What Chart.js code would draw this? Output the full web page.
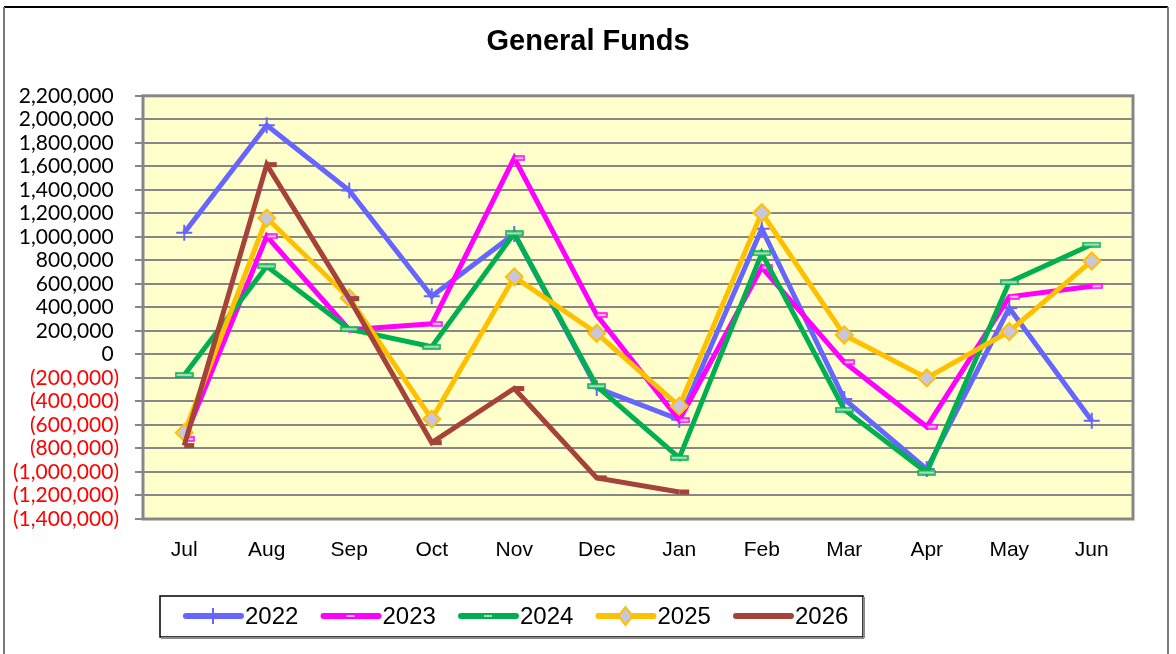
<!DOCTYPE html>
<html>
<head>
<meta charset="utf-8">
<title>General Funds</title>
<script src="https://cdn.jsdelivr.net/npm/chart.js@4/dist/chart.umd.min.js"></script>
<style>
  html, body { margin: 0; padding: 0; background: #fff; }
  #chart { display: block; }
</style>
</head>
<body>
<canvas id="chart" width="1176" height="654"></canvas>
<script>
// Months of the fiscal year
const months = ['Jul', 'Aug', 'Sep', 'Oct', 'Nov', 'Dec', 'Jan', 'Feb', 'Mar', 'Apr', 'May', 'Jun'];
const years = ['2022', '2023', '2024', '2025', '2026'];

// Values
const fy2022 = [1035000, 1950000, 1395000, 495000, 1025000, -285000, -555000, 1070000, -380000, -975000, 395000, -565000];
const fy2023 = [-720000, 1005000, 210000, 260000, 1670000, 335000, -560000, 740000, -65000, -615000, 490000, 580000];
const fy2024 = [-175000, 750000, 215000, 65000, 1030000, -270000, -880000, 860000, -470000, -1005000, 615000, 935000];
const fy2025 = [-665000, 1160000, 480000, -550000, 660000, 180000, -440000, 1205000, 165000, -200000, 195000, 795000];
const fy2026 = [-775000, 1615000, 475000, -750000, -290000, -1050000, -1170000, null, null, null, null, null];

const yMin = -1400000;
const yMax = 2200000;
const yStep = 200000;

const colors = ['#6666ff', '#ff00ff', '#00b050', '#ffc000', '#a5423a'];

// little dash markers (like the Excel ones), drawn to a canvas
function dashMarker(w, h, fill, stroke, shiftRight) {
  const c = document.createElement('canvas');
  c.width = shiftRight ? w * 2 + 2 : w + 2;
  c.height = h + 2;
  const g = c.getContext('2d');
  const x0 = shiftRight ? w + 1 : 1;
  g.fillStyle = fill;
  g.fillRect(x0, 1, w, h);
  if (stroke) {
    g.strokeStyle = stroke;
    g.lineWidth = 1.5;
    g.strokeRect(x0, 1, w, h);
  }
  return c;
}

const marker2023 = dashMarker(10, 4, '#f4b8f4', '#ff00ff', true);
const marker2024 = dashMarker(17, 4, '#a8dcb8', '#00b050', false);
const marker2026 = dashMarker(10, 5, '#a5423a', null, true);

const seriesList = [fy2022, fy2023, fy2024, fy2025, fy2026];

const datasets = seriesList.map((vals, i) => {
  const ds = {
    label: years[i],
    data: vals,
    borderColor: colors[i],
    backgroundColor: colors[i],
    borderWidth: 5,
    tension: 0,
    spanGaps: false,
    order: 5 - i,
    pointRadius: 7,
    pointHoverRadius: 7,
    pointBorderWidth: 2,
    pointBorderColor: colors[i],
    pointBackgroundColor: colors[i]
  };
  if (i === 0) { ds.pointStyle = 'cross'; ds.pointRadius = 8; }
  if (i === 1) ds.pointStyle = marker2023;
  if (i === 2) ds.pointStyle = marker2024;
  if (i === 3) {
    ds.pointStyle = 'rectRot';
    ds.pointRadius = 8.5;
    ds.pointBackgroundColor = '#c9c5da';
    ds.pointBorderColor = '#ffc000';
  }
  if (i === 4) ds.pointStyle = marker2026;
  return ds;
});

function fmt(v) {
  const s = Math.abs(v).toLocaleString('en-US');
  return v < 0 ? '(' + s + ')' : s + ' ';
}

// background, plot frame, outer frame and the boxed legend
const chartDecor = {
  id: 'chartDecor',
  beforeDraw(chart) {
    const { ctx, chartArea: a } = chart;
    ctx.save();
    ctx.fillStyle = '#ffffcc';
    ctx.fillRect(a.left, a.top, a.right - a.left, a.bottom - a.top);
    ctx.restore();
  },
  beforeDatasetsDraw(chart) {
    const { ctx, chartArea: a } = chart;
    ctx.save();
    ctx.strokeStyle = '#878787';
    ctx.lineWidth = 3;
    ctx.strokeRect(a.left, a.top, a.right - a.left, a.bottom - a.top);
    ctx.restore();
  },
  afterDraw(chart) {
    const ctx = chart.ctx;
    ctx.save();
    // outer frame
    ctx.strokeStyle = '#000';
    ctx.lineWidth = 2;
    ctx.beginPath();
    ctx.moveTo(4, 7); ctx.lineTo(1168, 7);
    ctx.stroke();
    ctx.strokeStyle = '#7a7a7a';
    ctx.beginPath();
    ctx.moveTo(4, 7); ctx.lineTo(4, 654);
    ctx.moveTo(1168, 7); ctx.lineTo(1168, 654);
    ctx.stroke();

    // legend box
    ctx.strokeStyle = '#000';
    ctx.lineWidth = 1.5;
    ctx.strokeRect(160, 596, 703, 41);
    ctx.fillStyle = '#8a8a8a';
    ctx.fillRect(161, 637, 703, 2);
    ctx.fillRect(863, 597, 2, 41);

    const ly = 616;
    years.forEach((yr, i) => {
      const x0 = 186 + i * 137.5;
      ctx.strokeStyle = colors[i];
      ctx.lineWidth = 6;
      ctx.lineCap = 'round';
      ctx.beginPath();
      ctx.moveTo(x0, ly); ctx.lineTo(x0 + 55, ly);
      ctx.stroke();
      const cx = x0 + 27;
      if (i === 0) {
        ctx.lineWidth = 2;
        ctx.lineCap = 'butt';
        ctx.beginPath();
        ctx.moveTo(cx, ly - 8); ctx.lineTo(cx, ly + 8);
        ctx.stroke();
      } else if (i === 1 || i === 2) {
        ctx.fillStyle = i === 1 ? '#f4b8f4' : '#a8dcb8';
        ctx.fillRect(cx - 4, ly - 1, 8, 2);
      } else if (i === 3) {
        ctx.fillStyle = '#c9c5da';
        ctx.strokeStyle = '#ffc000';
        ctx.lineWidth = 2;
        ctx.beginPath();
        ctx.moveTo(cx, ly - 9); ctx.lineTo(cx + 7, ly);
        ctx.lineTo(cx, ly + 9); ctx.lineTo(cx - 7, ly);
        ctx.closePath();
        ctx.fill(); ctx.stroke();
      }
      ctx.fillStyle = '#000';
      ctx.font = '24px "Liberation Sans", Arial, sans-serif';
      ctx.textBaseline = 'middle';
      ctx.textAlign = 'left';
      ctx.fillText(yr, x0 + 59, ly + 1);
    });
    ctx.restore();
  }
};

const config = {
  type: 'line',
  data: { labels: months, datasets: datasets },
  options: {
    responsive: false,
    animation: false,
    layout: { padding: 0 },
    plugins: {
      legend: { display: false },
      tooltip: { enabled: false },
      title: {
        display: true,
        text: 'General Funds',
        color: '#000',
        font: { family: '"Liberation Sans", Arial, sans-serif', size: 29, weight: 'bold' },
        padding: { top: 25, bottom: 36 }
      }
    },
    scales: {
      x: {
        offset: true,
        grid: { display: false, drawTicks: false },
        border: { display: false },
        ticks: {
          color: '#000',
          padding: 19,
          maxRotation: 0,
          font: { family: '"Liberation Sans", Arial, sans-serif', size: 21 }
        },
        afterFit(scale) { scale.height = 135; }
      },
      y: {
        min: yMin,
        max: yMax,
        grid: { color: '#878787', lineWidth: 2, tickLength: 8 },
        border: { display: false },
        ticks: {
          stepSize: yStep,
          autoSkip: false,
          padding: 16,
          font: { family: 'Lato, "Liberation Sans", sans-serif', size: 21 },
          color: (c) => (c.tick && c.tick.value < 0 ? '#ff0000' : '#000'),
          callback: (v) => fmt(v)
        },
        afterFit(scale) { scale.width = 143; }
      },
      // empty axis on the right, only keeps the plot clear of the frame
      yRight: {
        position: 'right',
        min: yMin,
        max: yMax,
        grid: { display: false, drawTicks: false },
        border: { display: false },
        ticks: { display: false },
        afterFit(scale) { scale.width = 43; }
      }
    }
  },
  plugins: [chartDecor]
};

new Chart(document.getElementById('chart'), config);
</script>
</body>
</html>
